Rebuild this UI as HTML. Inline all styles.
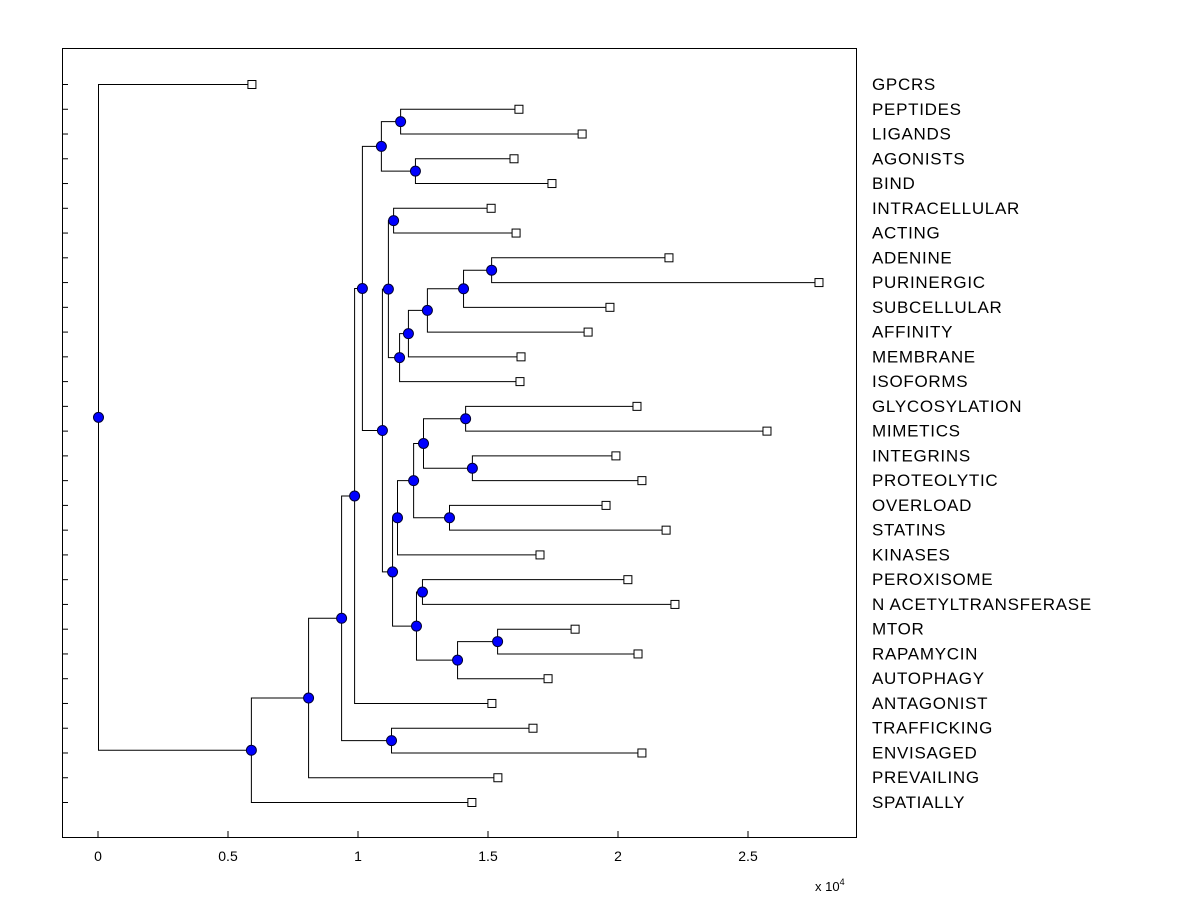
<!DOCTYPE html>
<html><head><meta charset="utf-8"><style>
body{margin:0;background:#fff;}
svg{display:block;font-family:"Liberation Sans",Arial,sans-serif;}
</style></head><body>
<svg id="chart" width="1200" height="900">
<rect x="0" y="0" width="1200" height="900" fill="#fff"/>
<rect x="62.5" y="48.5" width="794" height="789" fill="#fff" stroke="#000"/>
<g id="g"></g>
<text x="815" y="891" font-size="13">x 10<tspan dy="-6" font-size="9">4</tspan></text>
</svg>
<script>
const labels=['GPCRS','PEPTIDES','LIGANDS','AGONISTS','BIND','INTRACELLULAR','ACTING','ADENINE','PURINERGIC','SUBCELLULAR','AFFINITY','MEMBRANE','ISOFORMS','GLYCOSYLATION','MIMETICS','INTEGRINS','PROTEOLYTIC','OVERLOAD','STATINS','KINASES','PEROXISOME','N ACETYLTRANSFERASE','MTOR','RAPAMYCIN','AUTOPHAGY','ANTAGONIST','TRAFFICKING','ENVISAGED','PREVAILING','SPATIALLY'];
const leafValues=[0.592,1.619,1.862,1.6,1.746,1.512,1.608,2.196,2.773,1.969,1.885,1.627,1.623,2.073,2.573,1.992,2.092,1.954,2.185,1.7,2.038,2.219,1.835,2.077,1.731,1.515,1.673,2.092,1.538,1.438];
const merges=[['PEPTIDES','LIGANDS'],['AGONISTS','BIND'],['n0','n1'],['INTRACELLULAR','ACTING'],['ADENINE','PURINERGIC'],['n4','SUBCELLULAR'],['n5','AFFINITY'],['n6','MEMBRANE'],['n7','ISOFORMS'],['n3','n8'],['GLYCOSYLATION','MIMETICS'],['INTEGRINS','PROTEOLYTIC'],['n10','n11'],['OVERLOAD','STATINS'],['n12','n13'],['n14','KINASES'],['PEROXISOME','N ACETYLTRANSFERASE'],['MTOR','RAPAMYCIN'],['n17','AUTOPHAGY'],['n16','n18'],['n15','n19'],['n9','n20'],['n2','n21'],['n22','ANTAGONIST'],['TRAFFICKING','ENVISAGED'],['n23','n24'],['n25','PREVAILING'],['n26','SPATIALLY'],['GPCRS','n27']];
const mergeHeights=[1.162,1.219,1.088,1.135,1.512,1.404,1.265,1.192,1.158,1.115,1.412,1.438,1.25,1.35,1.212,1.15,1.246,1.535,1.381,1.223,1.131,1.092,1.015,0.985,1.127,0.935,0.808,0.588,0];
const xTicks=[0,0.5,1,1.5,2,2.5];
const xTickLabels=['0','0.5','1','1.5','2','2.5'];

const NS='http://www.w3.org/2000/svg';
const g=document.getElementById('g');
const X=v=>98+v*260;
const Y=i=>84+i*(802-84)/(labels.length-1);
function mk(t,a){const e=document.createElementNS(NS,t);for(const k in a)e.setAttribute(k,a[k]);g.appendChild(e);return e;}
xTicks.forEach((t,i)=>{
  const l=mk('line',{x1:X(t),x2:X(t),y1:837,y2:831,stroke:'#000'});
  
  
  const tx=mk('text',{x:X(t),y:861,'font-size':14,'text-anchor':'middle'});
  tx.textContent=xTickLabels[i];
  
  
});
const pos={};
labels.forEach((lb,i)=>{
  pos[lb]={x:X(leafValues[i]),y:Y(i)};
  const l=mk('line',{x1:62,x2:68,y1:Y(i)+0.5,y2:Y(i)+0.5,stroke:'#000'});
  
  
  const tx=mk('text',{x:872,y:Y(i)+6,'font-size':17,'letter-spacing':0.7});
  tx.textContent=lb;
  
  
});
const dots=[],squares=[];
merges.forEach((m,k)=>{
  const a=pos[m[0]],b=pos[m[1]],x=X(mergeHeights[k]);
  const y=(a.y+b.y)/2;
  const p=mk('path',{d:`M${a.x},${a.y+0.5}H${x+0.5}V${b.y+0.5}H${b.x}`,fill:'none',stroke:'#000','stroke-width':1});
  
  
  pos['n'+k]={x:x,y:y};
  dots.push([x,y]);
});
labels.forEach(lb=>squares.push(pos[lb]));
squares.forEach(s=>{
  const r=mk('rect',{x:s.x-4,y:s.y-3.5,width:8,height:8,fill:'#fff',stroke:'#000'});
  
  
});
dots.forEach(d=>{
  const c=mk('circle',{cx:d[0]+0.5,cy:d[1]+0.5,r:5,fill:'#0000ff',stroke:'#000033','stroke-width':1});
  
  
});
</script>
</body></html>
